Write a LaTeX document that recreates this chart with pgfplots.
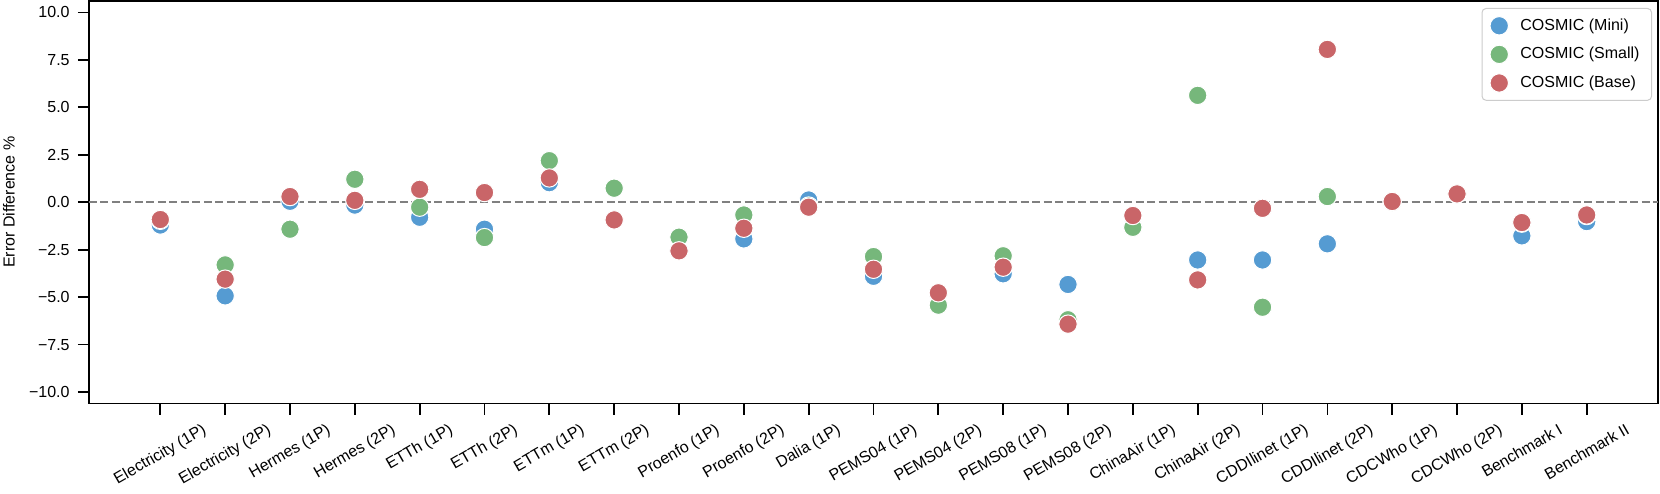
\documentclass[border=0pt]{standalone}
\usepackage{fontspec}
\setmainfont{Liberation Sans}
\usepackage{graphicx}
\usepackage{pgfplots}
\pgfplotsset{compat=1.18}
\definecolor{cmini}{RGB}{85,155,210}
\definecolor{csmall}{RGB}{118,183,123}
\definecolor{cbase}{RGB}{201,101,104}
\definecolor{lgray}{RGB}{204,204,204}
\newcommand{\rl}[1]{\rotatebox{30}{#1}}
\newcommand{\fs}{\fontsize{8}{9.5}\selectfont}
\pgfplotstableread{
x mini small base
0 -1.20 -0.95 -0.91
1 -4.93 -3.30 -4.05
2 0.05 -1.42 0.30
3 -0.15 1.21 0.10
4 -0.79 -0.26 0.68
5 -1.42 -1.86 0.51
6 1.03 2.19 1.28
7 -0.93 0.74 -0.93
8 -2.55 -1.84 -2.56
9 -1.93 -0.67 -1.37
10 0.12 -0.20 -0.26
11 -3.90 -2.86 -3.53
12 -4.80 -5.42 -4.77
13 -3.77 -2.82 -3.42
14 -4.33 -6.19 -6.42
15 -1.25 -1.32 -0.70
16 -3.04 5.63 -4.09
17 -3.04 -5.53 -0.32
18 -2.19 0.30 8.05
19 0.03 0.02 0.04
20 0.43 0.44 0.44
21 -1.77 -1.10 -1.07
22 -1.02 -0.70 -0.67
}\datatable
\begin{document}
\begin{tikzpicture}
\begin{axis}[
  scale only axis, width=784.5pt, height=201.25pt,
  xmin=-1.1, xmax=23.1, ymin=-10.6, ymax=10.6,
  axis line style={line width=0.85pt},
  every tick/.style={line width=0.85pt, black},
  tick align=outside, major tick length=5.5pt,
  tick pos=left,
  xtick={0,...,22},
  xticklabels={\rl{Electricity (1P)},\rl{Electricity (2P)},\rl{Hermes (1P)},\rl{Hermes (2P)},\rl{ETTh (1P)},\rl{ETTh (2P)},\rl{ETTm (1P)},\rl{ETTm (2P)},\rl{Proenfo (1P)},\rl{Proenfo (2P)},\rl{Dalia (1P)},\rl{PEMS04 (1P)},\rl{PEMS04 (2P)},\rl{PEMS08 (1P)},\rl{PEMS08 (2P)},\rl{ChinaAir (1P)},\rl{ChinaAir (2P)},\rl{CDDIlinet (1P)},\rl{CDDIlinet (2P)},\rl{CDCWho (1P)},\rl{CDCWho (2P)},\rl{Benchmark I},\rl{Benchmark II}},
  ytick={-10,-7.5,-5,-2.5,0,2.5,5,7.5,10},
  yticklabels={−10.0,−7.5,−5.0,−2.5,0.0,2.5,5.0,7.5,10.0},
  ticklabel style={font=\fs},
  xticklabel style={anchor=north, inner sep=0pt, yshift=-4pt},
  yticklabel style={inner sep=0pt, xshift=-4pt},
  ylabel={Error Difference \%},
  ylabel style={font=\fs, at={(axis description cs:-0.051,0.5)}, anchor=center},
  legend style={at={(axis description cs:0.9962,0.9826)}, anchor=north east,
    draw=lgray, rounded corners=2pt, line width=0.5pt, font=\fs,
    inner xsep=4pt, inner ysep=3pt, row sep=3pt,
    /tikz/every odd column/.append style={column sep=4pt}},
  legend cell align=left,
]
\addplot[only marks, mark=*, mark size=4.6pt, mark options={draw=white, fill=cmini, line width=0.5pt}] table[x=x, y=mini] {\datatable};
\addlegendentry{COSMIC (Mini)}
\addplot[only marks, mark=*, mark size=4.6pt, mark options={draw=white, fill=csmall, line width=0.5pt}] table[x=x, y=small] {\datatable};
\addlegendentry{COSMIC (Small)}
\addplot[only marks, mark=*, mark size=4.6pt, mark options={draw=white, fill=cbase, line width=0.5pt}] table[x=x, y=base] {\datatable};
\addlegendentry{COSMIC (Base)}
\addplot[forget plot, color={rgb,255:red,128;green,128;blue,128}, line width=1pt, dash pattern=on 4pt off 1.75pt] coordinates {(-1.1,0) (23.1,0)};
\end{axis}
\pgfresetboundingbox
\path (current axis.south west) ++(-44.5pt,-44.75pt) coordinate (bbsw);
\path (current axis.north east) ++(1pt,0.5pt) coordinate (bbne);
\path[use as bounding box] (bbsw) rectangle (bbne);
\end{tikzpicture}
\end{document}
